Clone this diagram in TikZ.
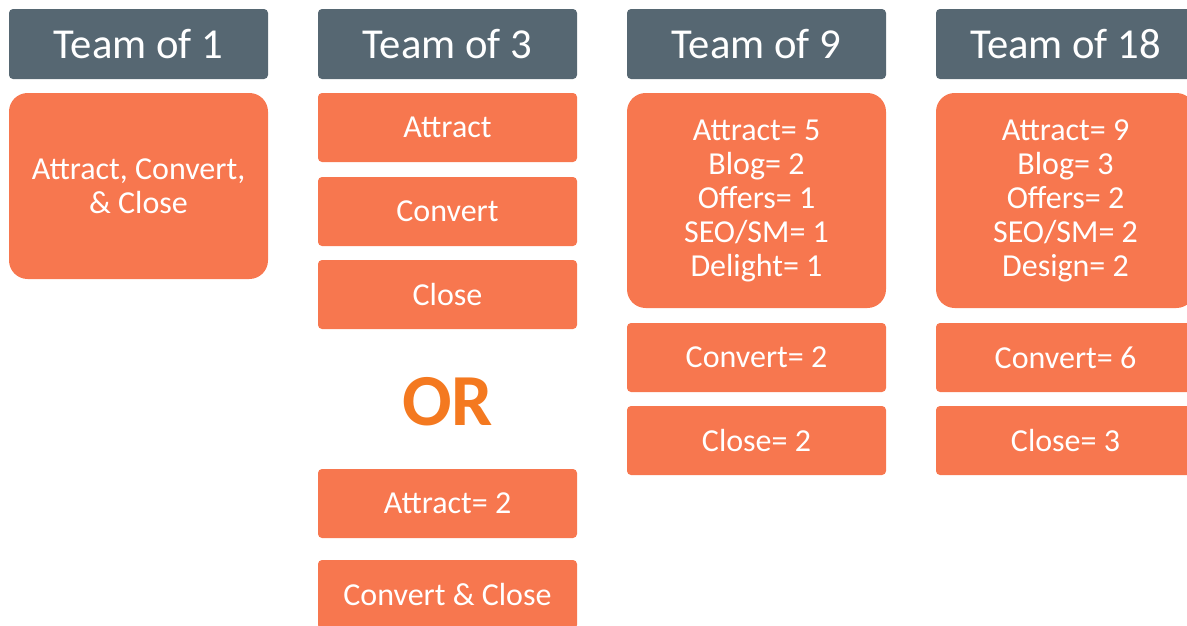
\documentclass[tikz,border=0pt]{standalone}
\usepackage{fontspec}
\setmainfont{Carlito}
\definecolor{hdrc}{HTML}{566772}
\definecolor{boxc}{HTML}{F7774F}
\definecolor{orc}{HTML}{F47920}
\begin{document}
\begin{tikzpicture}[x=0.75pt,y=-0.75pt,
  hdr/.style={fill=hdrc, text=white, rounded corners=3pt, minimum width=194.25pt, minimum height=52.5pt, inner sep=0pt, font=\fontsize{32}{38}\selectfont},
  sbox/.style={fill=boxc, text=white, rounded corners=3pt, minimum width=194.25pt, minimum height=51.75pt, inner sep=0pt, align=center, font=\fontsize{24}{25.5}\selectfont},
  bbox/.style={sbox, rounded corners=14pt}]
\useasboundingbox (0,0) rectangle (1187,625);
\clip (0,0) rectangle (1187,625);
% headers
\node[hdr] (h1) at (138.5,44) {Team of 1};
\node[hdr] (h3) at (447.5,44) {Team of 3};
\node[hdr] (h9) at (756.5,44) {Team of 9};
\node[hdr] (h18) at (1065.5,44) {Team of 18};
% column 1
\node[bbox, minimum height=139.5pt] (c1) at (138.5,186) {Attract, Convert,\\ \& Close};
% column 2
\node[sbox] (a3) at (447.5,127.5) {Attract};
\node[sbox] (v3) at (447.5,211.5) {Convert};
\node[sbox] (l3) at (447.5,294.5) {Close};
\node[text=orc, font=\fontsize{55}{60}\selectfont\bfseries, inner sep=0pt] (or) at (447.5,401.5) {OR};
\node[sbox] (a3b) at (447.5,503.5) {Attract= 2};
\node[sbox] (vl3) at (447.5,594.5) {Convert \& Close};
% column 3
\node[bbox, minimum height=161.25pt] (a9) at (756.5,200.5) {Attract= 5\\Blog= 2\\Offers= 1\\SEO/SM= 1\\Delight= 1};
\node[sbox] (v9) at (756.5,357.5) {Convert= 2};
\node[sbox] (l9) at (756.5,440.5) {Close= 2};
% column 4
\node[bbox, minimum height=161.25pt] (a18) at (1065.5,200.5) {Attract= 9\\Blog= 3\\Offers= 2\\SEO/SM= 2\\Design= 2};
\node[sbox] (v18) at (1065.5,357.5) {Convert= 6};
\node[sbox] (l18) at (1065.5,440.5) {Close= 3};
\end{tikzpicture}
\end{document}
